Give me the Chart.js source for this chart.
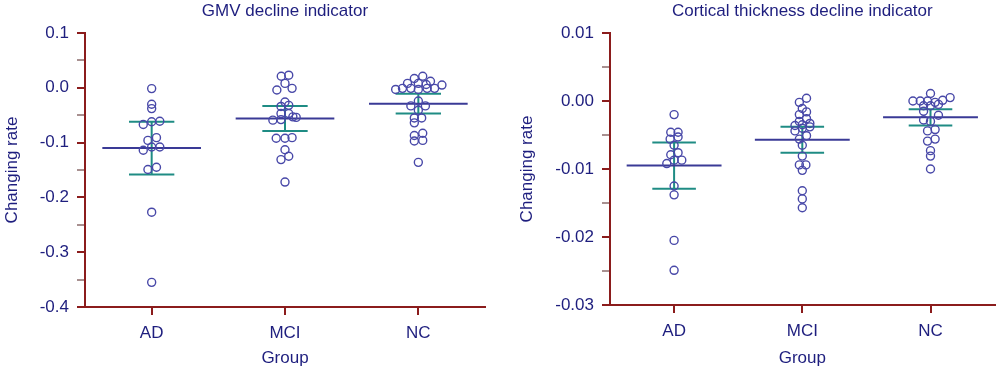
<!DOCTYPE html>
<html lang="en">
<head>
<meta charset="UTF-8">
<title>GMV / cortical thickness decline indicators</title>
<script src="https://cdn.jsdelivr.net/npm/chart.js"></script>
<style>
  body { margin: 0; background: #fff; }
  .wrap { position: absolute; top: 0; width: 500px; height: 370px; }
</style>
</head>
<body>
<div class="wrap" style="left:0"><canvas id="gmv"></canvas></div>
<div class="wrap" style="left:500px"><canvas id="ct"></canvas></div>
<script>
const groups = ['AD', 'MCI', 'NC'];

// GMV decline indicator: values and horizontal jitter (in category units)
const gmvAD = [-0.0015, -0.030, -0.038, -0.067, -0.062, -0.061, -0.091, -0.096, -0.114, -0.108, -0.108, -0.149, -0.145, -0.227, -0.355];
const gmvADx = [0, 0, 0, -0.063, 0, 0.061, 0.036, -0.028, -0.063, 0, 0.061, -0.028, 0.036, 0, 0];
const gmvMCI = [0.023, 0.021, 0.008, -0.004, -0.001, -0.026, -0.032, -0.034, -0.047, -0.047, -0.059, -0.058, -0.053, -0.054, -0.092, -0.092, -0.091, -0.113, -0.125, -0.131, -0.172];
const gmvMCIx = [0.028, -0.028, 0, -0.061, 0.053, 0, 0.028, -0.03, -0.03, 0.028, -0.091, -0.03, 0.059, 0.084, -0.066, 0, 0.053, 0, 0.028, -0.03, 0];
const gmvNC = [0.021, 0.017, 0.012, 0.008, 0.008, 0.006, 0.005, -0.003, -0.001, -0.001, -0.003, -0.001, -0.001, -0.024, -0.033, -0.033, -0.041, -0.055, -0.055, -0.064, -0.087, -0.083, -0.097, -0.096, -0.136];
const gmvNCx = [0.033, -0.03, 0.091, -0.081, 0, 0.059, 0.177, -0.17, -0.119, -0.056, 0, 0.066, 0.122, 0, -0.056, 0.053, 0, -0.03, 0.025, -0.03, -0.03, 0.033, -0.03, 0.033, 0];
const gmvMean = [-0.110, -0.056, -0.029];
const gmvErr = [0.048, 0.023, 0.018];

// Cortical thickness decline indicator
const ctAD = [-0.0020, -0.0046, -0.0046, -0.0056, -0.0053, -0.0065, -0.0079, -0.0076, -0.0087, -0.0087, -0.0092, -0.0125, -0.0138, -0.0205, -0.0249];
const ctADx = [0, -0.026, 0.031, -0.031, 0.031, 0, -0.026, 0.031, 0, 0.06, -0.057, 0, 0, 0, 0];
const ctMCI = [0.0004, -0.0002, -0.0011, -0.0016, -0.0020, -0.0026, -0.0030, -0.0036, -0.0035, -0.0033, -0.0044, -0.0040, -0.0038, -0.0056, -0.0051, -0.0065, -0.0081, -0.0094, -0.0094, -0.0102, -0.0132, -0.0144, -0.0157];
const ctMCIx = [0.033, -0.023, 0, 0.033, -0.023, 0.033, -0.023, -0.057, 0, 0.059, -0.057, 0, 0.059, -0.023, 0.033, 0, 0, -0.023, 0.028, 0, 0, 0, 0];
const ctNC = [0.0011, 0.0000, 0.0000, 0.0000, -0.0002, 0.0001, 0.0005, -0.0007, -0.0007, -0.0005, -0.0015, -0.0021, -0.0028, -0.0030, -0.0044, -0.0042, -0.0059, -0.0056, -0.0073, -0.0081, -0.0100];
const ctNCx = [0, -0.137, -0.08, -0.023, 0.036, 0.095, 0.153, -0.054, 0, 0.062, -0.054, 0.062, -0.054, 0, -0.023, 0.036, -0.023, 0.036, 0, 0, 0];
const ctMean = [-0.0095, -0.0057, -0.0024];
const ctErr = [0.0034, 0.0019, 0.0012];

const axisColor = '#8b1c1c';
const minorColor = '#a89090';
const textColor = '#1e1e7e';
const pointColor = '#4848a8';
const meanColor = '#3a3a96';
const errColor = '#1f8c84';
const fontFamily = "'Liberation Sans', Arial, sans-serif";

Chart.defaults.font.family = fontFamily;
Chart.defaults.font.size = 17;
Chart.defaults.color = textColor;

// title drawn centred over the plot area
const topTitle = {
  id: 'topTitle',
  afterDraw(chart, args, opts) {
    const { ctx, chartArea } = chart;
    ctx.save();
    ctx.font = '17px ' + fontFamily;
    ctx.fillStyle = textColor;
    ctx.textAlign = 'center';
    ctx.textBaseline = 'middle';
    ctx.fillText(opts.text, (chartArea.left + chartArea.right) / 2, 11);
    ctx.restore();
  }
};

function seg(data, color) {
  return { data, showLine: true, borderColor: color, borderWidth: 2, pointRadius: 0, fill: false, order: 1 };
}

function makeChart(id, cfg) {
  const datasets = [];
  cfg.sets.forEach((s, g) => {
    const cx = g + 1, m = cfg.mean[g], e = cfg.err[g];
    datasets.push({
      data: s[0].map((v, i) => ({ x: cx + s[1][i], y: v })),
      pointRadius: 4, borderWidth: 1.4, borderColor: pointColor,
      backgroundColor: 'rgba(255,255,255,0)', order: 0
    });
    datasets.push(seg([{ x: cx - 0.37, y: m }, { x: cx + 0.37, y: m }], meanColor));
    datasets.push(seg([{ x: cx, y: m - e }, { x: cx, y: m + e }], errColor));
    datasets.push(seg([{ x: cx - 0.17, y: m + e }, { x: cx + 0.17, y: m + e }], errColor));
    datasets.push(seg([{ x: cx - 0.17, y: m - e }, { x: cx + 0.17, y: m - e }], errColor));
  });

  const isMajor = v => {
    const r = v / cfg.major;
    return Math.abs(r - Math.round(r)) < 1e-6;
  };

  new Chart(document.getElementById(id), {
    type: 'scatter',
    data: { datasets },
    plugins: [topTitle],
    options: {
      responsive: true,
      maintainAspectRatio: false,
      animation: false,
      events: [],
      layout: { padding: { top: 33, right: cfg.padRight, left: 0, bottom: 0 } },
      plugins: {
        legend: { display: false },
        tooltip: { enabled: false },
        topTitle: { text: cfg.title }
      },
      scales: {
        x: {
          type: 'linear', min: 0.5, max: 3.5,
          afterBuildTicks: s => { s.ticks = groups.map((g, i) => ({ value: i + 1 })); },
          afterFit: s => { s.height = cfg.xHeight; },
          ticks: { autoSkip: false, maxRotation: 0, padding: 8, callback: v => groups[Math.round(v) - 1] },
          grid: { drawOnChartArea: false, tickLength: 8, lineWidth: 2, color: axisColor },
          border: { color: axisColor, width: 2 },
          title: { display: true, text: 'Group', padding: { top: 0, bottom: 1 } }
        },
        y: {
          min: cfg.min, max: cfg.max,
          afterFit: s => { s.width = cfg.yWidth; },
          ticks: {
            stepSize: cfg.major / 2, autoSkip: false, padding: 8,
            callback: v => isMajor(v) ? (Math.abs(v) < 1e-9 ? 0 : v).toFixed(cfg.digits) : ''
          },
          grid: {
            drawOnChartArea: false, tickLength: 8, lineWidth: 2,
            color: c => (c.tick && !isMajor(c.tick.value)) ? minorColor : axisColor
          },
          border: { color: axisColor, width: 2 },
          title: { display: true, text: 'Changing rate', padding: { top: cfg.yTitlePad, bottom: 0 } }
        }
      }
    }
  });
}

makeChart('gmv', {
  title: 'GMV decline indicator',
  sets: [[gmvAD, gmvADx], [gmvMCI, gmvMCIx], [gmvNC, gmvNCx]],
  mean: gmvMean, err: gmvErr,
  min: -0.4, max: 0.1, major: 0.1, digits: 1,
  yWidth: 85, xHeight: 63, padRight: 15, yTitlePad: 2
});

makeChart('ct', {
  title: 'Cortical thickness decline indicator',
  sets: [[ctAD, ctADx], [ctMCI, ctMCIx], [ctNC, ctNCx]],
  mean: ctMean, err: ctErr,
  min: -0.03, max: 0.01, major: 0.01, digits: 2,
  yWidth: 110, xHeight: 65, padRight: 3, yTitlePad: 17
});
</script>
</body>
</html>
